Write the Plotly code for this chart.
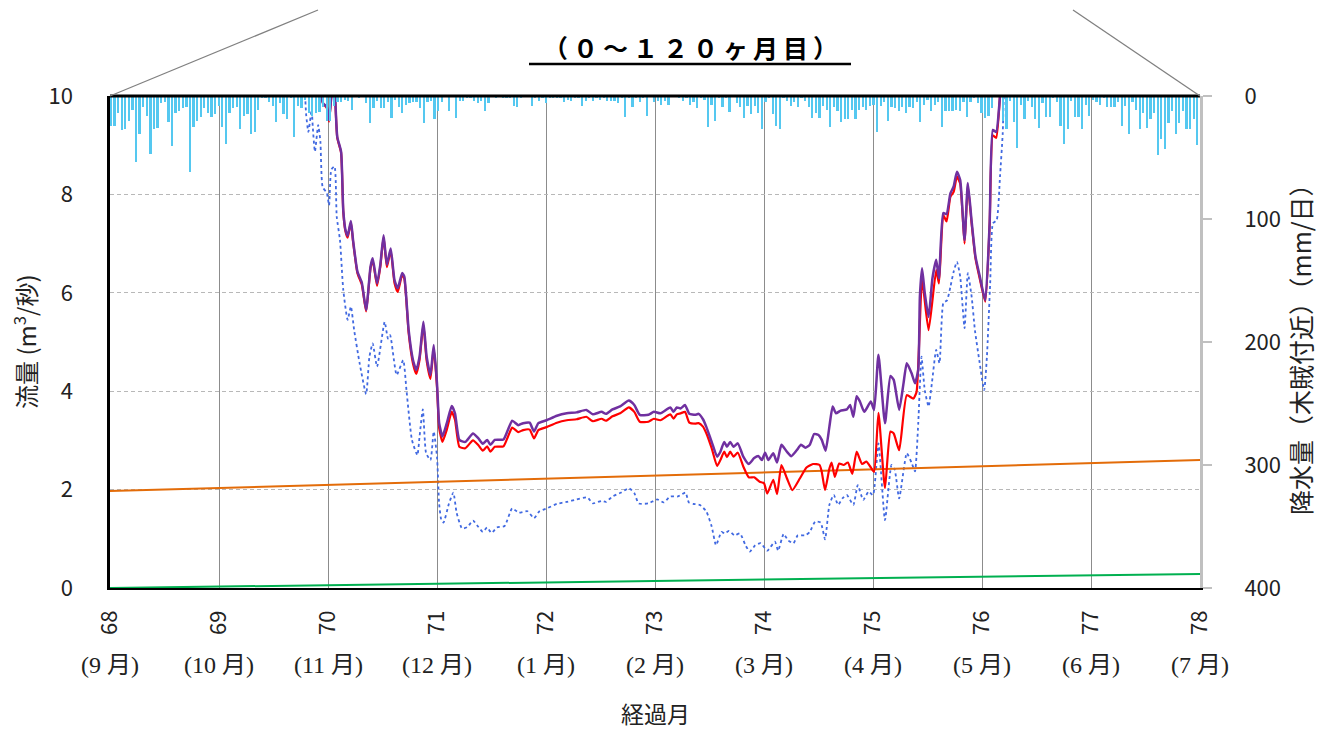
import plotly.graph_objects as go

# ---------------- data ----------------
month_ticks = [68, 69, 70, 71, 72, 73, 74, 75, 76, 77, 78]
month_names = ["(9 月)", "(10 月)", "(11 月)", "(12 月)", "(1 月)", "(2 月)",
               "(3 月)", "(4 月)", "(5 月)", "(6 月)", "(7 月)"]

# purple flow series
purple_x = [69.90, 69.94, 69.955, 69.99, 70.01, 70.03, 70.045, 70.065, 70.085, 70.12, 70.14, 70.16, 70.18,
            70.21, 70.23, 70.27, 70.31, 70.35, 70.39, 70.41, 70.45, 70.48, 70.51, 70.54, 70.575, 70.61,
            70.64, 70.68, 70.70, 70.74, 70.78, 70.81, 70.84, 70.875, 70.905, 70.94, 70.97, 71.0, 71.02,
            71.05, 71.09, 71.135, 71.165, 71.205, 71.26, 71.33, 71.38, 71.42, 71.46, 71.49, 71.53, 71.61,
            71.65, 71.69, 71.745, 71.79, 71.85, 71.89, 71.93, 72.005, 72.10, 72.19, 72.28, 72.37, 72.43,
            72.51, 72.55, 72.61, 72.68, 72.76, 72.81, 72.86, 72.94, 72.99, 73.05, 73.14, 73.17, 73.20,
            73.235, 73.275, 73.315, 73.37, 73.40, 73.44, 73.47, 73.52, 73.57, 73.60, 73.635, 73.66, 73.69,
            73.72, 73.76, 73.81, 73.86, 73.91, 73.95, 73.98, 74.01, 74.04, 74.085, 74.12, 74.16, 74.21,
            74.25, 74.30, 74.34, 74.38, 74.42, 74.46, 74.50, 74.53, 74.565, 74.60, 74.63, 74.66, 74.70,
            74.76, 74.79, 74.82, 74.85, 74.88, 74.92, 74.98, 75.01, 75.05, 75.11, 75.16, 75.19, 75.24,
            75.28, 75.31, 75.355, 75.385, 75.415, 75.43, 75.45, 75.475, 75.51, 75.545, 75.58, 75.605,
            75.645, 75.675, 75.71, 75.74, 75.77, 75.80, 75.84, 75.87, 75.905, 75.94, 75.98, 76.03, 76.07,
            76.10, 76.13, 76.165, 76.20]
purple_y = [11.0, 10.0, 9.85, 9.78, 9.51, 10.0, 10.6, 10.0, 9.17, 8.87, 7.68, 7.28, 7.16,
            7.46, 7.07, 6.43, 6.21, 5.65, 6.53, 6.70, 6.19, 6.57, 7.17, 6.57, 6.90, 6.26,
            6.09, 6.40, 6.33, 5.24, 4.63, 4.43, 4.70, 5.41, 4.70, 4.33, 4.94, 4.16, 3.35,
            3.08, 3.35, 3.70, 3.55, 3.01, 2.97, 3.14, 3.04, 2.93, 3.01, 2.91, 3.01, 3.02,
            3.21, 3.40, 3.31, 3.35, 3.36, 3.18, 3.35, 3.41, 3.50, 3.55, 3.57, 3.62, 3.53,
            3.58, 3.54, 3.63, 3.69, 3.81, 3.72, 3.52, 3.52, 3.58, 3.55, 3.67, 3.58, 3.67,
            3.65, 3.72, 3.54, 3.52, 3.54, 3.43, 3.28, 2.97, 2.67, 2.77, 2.97, 2.87, 2.97,
            2.87, 2.94, 2.67, 2.52, 2.64, 2.68, 2.60, 2.75, 2.60, 2.74, 2.55, 2.91, 2.77,
            2.68, 2.80, 2.91, 2.85, 2.91, 3.13, 3.11, 3.01, 2.79, 3.28, 3.69, 3.55, 3.60,
            3.63, 3.72, 3.48, 3.90, 3.79, 3.58, 3.79, 3.62, 4.74, 3.35, 4.31, 4.23, 3.62,
            4.16, 4.57, 4.36, 4.16, 4.43, 5.92, 6.50, 5.99, 5.51, 6.29, 6.67, 6.29,
            7.62, 7.60, 8.02, 8.16, 8.46, 8.29, 7.07, 8.23, 7.45, 6.74, 6.33, 5.85, 7.41,
            9.31, 9.27, 9.99, 10.8]

# red flow series
red_x = [69.90, 69.94, 69.955, 69.99, 70.01, 70.03, 70.045, 70.065, 70.085, 70.12, 70.14, 70.16, 70.18,
         70.21, 70.23, 70.27, 70.31, 70.35, 70.39, 70.41, 70.45, 70.48, 70.51, 70.54, 70.575, 70.61,
         70.64, 70.68, 70.70, 70.74, 70.78, 70.81, 70.84, 70.875, 70.905, 70.94, 70.97, 71.0, 71.02,
         71.05, 71.09, 71.135, 71.165, 71.205, 71.26, 71.33, 71.38, 71.42, 71.46, 71.49, 71.53, 71.61,
         71.65, 71.69, 71.745, 71.79, 71.85, 71.89, 71.93, 72.005, 72.10, 72.19, 72.28, 72.37, 72.43,
         72.51, 72.55, 72.61, 72.68, 72.76, 72.81, 72.86, 72.94, 72.99, 73.05, 73.14, 73.17, 73.20,
         73.235, 73.275, 73.315, 73.37, 73.40, 73.44, 73.47, 73.52, 73.57, 73.60, 73.635, 73.66, 73.69,
         73.72, 73.76, 73.81, 73.86, 73.91, 73.96, 74.00, 74.03, 74.085, 74.12, 74.16, 74.21, 74.26,
         74.33, 74.39, 74.45, 74.51, 74.53, 74.56, 74.60, 74.62, 74.65, 74.69, 74.73, 74.77, 74.81,
         74.85, 74.90, 74.94, 74.98, 75.01, 75.05, 75.11, 75.16, 75.19, 75.24, 75.31, 75.37, 75.40,
         75.45, 75.51, 75.58, 75.605, 75.645, 75.675, 75.71, 75.74, 75.77, 75.80, 75.84, 75.87, 75.905,
         75.94, 75.98, 76.03, 76.07, 76.10, 76.13, 76.165, 76.20]
red_y = [11.0, 10.0, 9.85, 9.75, 9.48, 10.0, 10.6, 10.0, 9.15, 8.85, 7.65, 7.25, 7.12,
         7.43, 7.04, 6.40, 6.17, 5.62, 6.50, 6.66, 6.14, 6.53, 7.13, 6.52, 6.86, 6.20,
         6.02, 6.36, 6.29, 5.18, 4.56, 4.35, 4.64, 5.35, 4.62, 4.25, 4.88, 4.08, 3.25,
         2.97, 3.22, 3.58, 3.42, 2.87, 2.84, 3.00, 2.90, 2.79, 2.88, 2.77, 2.87, 2.88,
         3.07, 3.26, 3.17, 3.21, 3.22, 3.04, 3.21, 3.27, 3.36, 3.41, 3.43, 3.48, 3.39,
         3.44, 3.40, 3.49, 3.55, 3.67, 3.58, 3.38, 3.38, 3.44, 3.41, 3.53, 3.44, 3.53,
         3.55, 3.58, 3.36, 3.34, 3.35, 3.28, 3.15, 2.84, 2.48, 2.60, 2.77, 2.66, 2.77,
         2.67, 2.75, 2.47, 2.25, 2.25, 2.16, 2.13, 1.92, 2.20, 1.91, 2.50, 2.23, 1.99,
         2.23, 2.45, 2.52, 2.50, 2.36, 1.99, 2.43, 2.55, 2.26, 2.53, 2.50, 2.55, 2.32,
         2.77, 2.52, 2.57, 2.45, 2.36, 3.56, 2.03, 3.18, 3.14, 2.80, 3.92, 3.85, 3.99,
         6.26, 5.24, 6.46, 6.19, 7.58, 7.45, 7.95, 8.05, 8.36, 8.22, 7.00, 8.18, 7.40,
         6.70, 6.28, 5.82, 7.38, 9.20, 9.15, 9.99, 10.8]

# blue dotted flow series
blue_x = [69.78, 69.80, 69.82, 69.85, 69.86, 69.88, 69.91, 69.93, 69.95, 69.99, 70.01, 70.03, 70.06,
          70.08, 70.11, 70.14, 70.18, 70.21, 70.24, 70.29, 70.35, 70.38, 70.41, 70.45, 70.52, 70.55,
          70.57, 70.63, 70.69, 70.72, 70.77, 70.82, 70.84, 70.87, 70.90, 70.94, 70.97, 71.0, 71.02,
          71.04, 71.06, 71.11, 71.15, 71.18, 71.23, 71.28, 71.33, 71.38, 71.42, 71.46, 71.50, 71.55,
          71.62, 71.69, 71.75, 71.83, 71.89, 71.94, 72.01, 72.10, 72.19, 72.28, 72.38, 72.43, 72.51,
          72.55, 72.61, 72.69, 72.76, 72.81, 72.85, 72.94, 73.02, 73.08, 73.14, 73.21, 73.28, 73.31,
          73.35, 73.41, 73.47, 73.52, 73.56, 73.61, 73.64, 73.68, 73.73, 73.78, 73.83, 73.87, 73.92,
          73.97, 74.03, 74.10, 74.13, 74.18, 74.22, 74.27, 74.31, 74.38, 74.42, 74.47, 74.52, 74.56,
          74.60, 74.64, 74.68, 74.72, 74.76, 74.82, 74.86, 74.91, 74.96, 75.00, 75.05, 75.11, 75.17,
          75.20, 75.24, 75.31, 75.355, 75.385, 75.415, 75.445, 75.475, 75.51, 75.54, 75.58, 75.61,
          75.645, 75.68, 75.71, 75.74, 75.77, 75.80, 75.84, 75.87, 75.905, 75.935, 75.975, 76.02,
          76.045, 76.075, 76.10, 76.135, 76.165, 76.19, 76.20, 76.22]
blue_y = [10.5, 9.61, 9.27, 9.72, 9.38, 8.87, 9.41, 9.08, 8.16, 8.02, 7.78, 8.50, 8.57,
          7.55, 7.07, 6.06, 5.45, 5.72, 5.24, 4.57, 3.94, 4.70, 4.97, 4.50, 5.41, 5.07,
          5.14, 4.33, 4.63, 4.02, 3.01, 2.70, 3.08, 3.63, 2.74, 2.60, 3.18, 2.67, 1.70,
          1.38, 1.33, 1.72, 1.94, 1.53, 1.21, 1.24, 1.37, 1.24, 1.14, 1.23, 1.12, 1.23,
          1.26, 1.62, 1.53, 1.56, 1.42, 1.56, 1.62, 1.71, 1.75, 1.80, 1.84, 1.72, 1.77,
          1.75, 1.86, 1.94, 2.03, 1.93, 1.72, 1.72, 1.80, 1.74, 1.86, 1.86, 1.94, 1.74,
          1.71, 1.69, 1.56, 1.25, 0.87, 1.14, 1.11, 1.16, 1.07, 1.11, 0.87, 0.74, 0.87,
          0.91, 0.76, 0.94, 0.76, 1.10, 0.97, 0.91, 1.07, 1.07, 1.14, 1.35, 1.33, 0.99,
          1.69, 1.89, 1.69, 1.82, 1.89, 1.69, 2.09, 1.79, 1.96, 1.89, 2.94, 1.38, 2.50,
          2.40, 1.82, 2.74, 2.54, 2.37, 3.35, 4.70, 4.02, 3.69, 4.16, 4.84, 4.57,
          5.79, 5.85, 6.12, 6.43, 6.63, 6.33, 5.28, 6.40, 5.92, 5.24, 4.63, 4.02,
          4.70, 6.19, 7.41, 7.48, 8.36, 9.24, 10.0, 10.8]

# straight reference lines
orange_x = [68, 78]
orange_y = [1.97, 2.60]
green_x = [68, 78]
green_y = [0.0, 0.285]

# daily precipitation (mm/day), one value per day from month 68 to 78
rain = [
    24, 24, 14, 28, 27, 20, 11, 54, 31, 9, 16, 47, 27, 26, 6, 5, 21, 41, 14, 12, 10, 9, 62, 25, 20, 17, 10, 14, 17, 15, 8,
    25, 39, 14, 10, 9, 27, 16, 15, 31, 29, 11, 2, 1, 5, 8, 21, 6, 15, 19, 2, 33, 8, 10, 3, 14, 16, 14, 13, 9, 20,
    20, 8, 5, 5, 3, 4, 11, 0, 2, 0, 6, 22, 10, 4, 10, 10, 5, 18, 3, 9, 14, 7, 6, 5, 5, 10, 22, 5, 4, 19,
    12, 5, 0, 12, 0, 18, 4, 4, 2, 2, 4, 6, 4, 12, 6, 0, 1, 0, 1, 2, 2, 8, 9, 2, 0, 0, 8, 2, 4, 2,
    6, 2, 2, 1, 2, 5, 3, 4, 1, 2, 8, 4, 2, 4, 1, 3, 2, 4, 4, 4, 6, 2, 17, 2, 9, 2, 5, 2, 16, 0,
    5, 4, 7, 4, 7, 0, 0, 2, 4, 2, 7, 5, 10, 2, 3, 25, 7, 20, 2, 9, 2, 13, 0, 6, 9, 18, 8, 15, 8, 14,
    27, 5, 2, 15, 24, 27, 1, 4, 8, 5, 9, 2, 4, 9, 18, 14, 18, 8, 11, 25, 9, 12, 21, 19, 19, 11, 19, 11, 9, 11, 8,
    7, 29, 8, 5, 20, 9, 10, 12, 9, 14, 9, 10, 5, 21, 7, 3, 12, 7, 5, 25, 12, 12, 12, 11, 12, 5, 17, 5, 2, 6,
    14, 18, 16, 10, 0, 0, 20, 27, 4, 21, 42, 7, 19, 4, 9, 19, 26, 6, 17, 17, 2, 5, 24, 39, 27, 4, 17, 17, 27, 7, 16,
    3, 5, 7, 2, 9, 9, 9, 5, 24, 8, 31, 5, 11, 27, 14, 26, 19, 14, 48, 35, 43, 22, 12, 31, 22, 12, 27, 27, 19, 40,
]
rain_x = [68 + (i + 0.3) * 10.0 / len(rain) for i in range(len(rain))]

# ---------------- figure ----------------
# page has an 8px body margin, so the figure is drawn 8px right/down of the page origin
OFF = 8
PLOT_L, PLOT_R, PLOT_T, PLOT_B = 110, 1200, 96, 588   # plot area in page pixels
W, H = 1326 - OFF, 729 - OFF
L = PLOT_L - OFF
T = PLOT_T - OFF
R = W - (PLOT_R - OFF)
B = H - (PLOT_B - OFF)

def px(xp):
    return (xp - PLOT_L) / (PLOT_R - PLOT_L)

def py(yp):
    return (PLOT_B - yp) / (PLOT_B - PLOT_T)

sans = "Noto Sans CJK JP, Noto Sans, sans-serif"
serif = "Liberation Serif, Noto Sans CJK JP, serif"

fig = go.Figure()

fig.add_trace(go.Bar(x=rain_x, y=rain, yaxis="y2", width=0.016,
                     marker=dict(color="#55C8F0", line=dict(width=0)), name="降水量"))

fig.add_trace(go.Scatter(x=blue_x, y=blue_y, mode="lines", name="blue",
                         line=dict(color="#4169E1", width=1.8, dash="dot", shape="spline", smoothing=0.5)))
fig.add_trace(go.Scatter(x=orange_x, y=orange_y, mode="lines", name="orange",
                         line=dict(color="#E36C09", width=2)))
fig.add_trace(go.Scatter(x=green_x, y=green_y, mode="lines", name="green",
                         line=dict(color="#00B050", width=2)))
fig.add_trace(go.Scatter(x=red_x, y=red_y, mode="lines", name="red",
                         line=dict(color="#FF0000", width=2.2, shape="spline", smoothing=0.5)))
fig.add_trace(go.Scatter(x=purple_x, y=purple_y, mode="lines", name="purple",
                         line=dict(color="#7030A0", width=2.5, shape="spline", smoothing=0.5)))

fig.update_layout(
    width=W, height=H,
    margin=dict(l=L, r=R, t=T, b=B),
    plot_bgcolor="white", paper_bgcolor="white",
    showlegend=False,
    bargap=0,
    font=dict(family=sans, size=22, color="#222222"),
    xaxis=dict(range=[68, 78], tickmode="array", tickvals=month_ticks,
               ticktext=[str(v) for v in month_ticks], tickangle=-90,
               showgrid=True, gridcolor="#8C8C8C", gridwidth=1.2,
               showline=True, linecolor="black", linewidth=1.5,
               ticks="", ticklabelstandoff=12, zeroline=False,
               tickfont=dict(family=sans, size=22, color="#222222")),
    yaxis=dict(range=[0, 10], tickvals=[0, 2, 4, 6, 8, 10],
               showgrid=True, gridcolor="#B8B8B8", gridwidth=1, griddash="4px,3px",
               showline=True, linecolor="black", linewidth=2.5,
               ticks="", ticklabelstandoff=30, zeroline=False,
               tickfont=dict(family=sans, size=22, color="#222222")),
    yaxis2=dict(range=[400, 0], tickvals=[0, 100, 200, 300, 400],
                overlaying="y", side="right", showgrid=False, zeroline=False,
                showline=True, linecolor="#C0C0C0", linewidth=3,
                ticks="outside", ticklen=9, tickcolor="#C0C0C0", tickwidth=1.5,
                ticklabelstandoff=28,
                tickfont=dict(family=sans, size=22, color="#222222")),
)

shapes = [
    dict(type="line", xref="paper", yref="paper", x0=0, x1=1, y0=1, y1=1,
         line=dict(color="black", width=3)),
    dict(type="line", xref="paper", yref="paper", x0=0, y0=1, x1=px(318), y1=py(10),
         line=dict(color="#808080", width=1.3)),
    dict(type="line", xref="paper", yref="paper", x0=1, y0=1, x1=px(1073), y1=py(10),
         line=dict(color="#808080", width=1.3)),
    dict(type="line", xref="paper", yref="paper", x0=px(529), x1=px(851), y0=py(64), y1=py(64),
         line=dict(color="black", width=2.5)),
]
fig.update_layout(shapes=shapes)

title_text = "\u2009".join("（０～１２０ヶ月目）")
annotations = [
    dict(text="<b>" + title_text + "</b>", xref="paper", yref="paper", x=px(690), y=py(47),
         showarrow=False, font=dict(family=sans, size=25, color="black"), xanchor="center", yanchor="middle"),
    dict(text="流量 (m<sup>3</sup>/秒)", xref="paper", yref="paper", x=px(25), y=py(342),
         showarrow=False, textangle=-90, font=dict(family=sans, size=24, color="#222222"),
         xanchor="center", yanchor="middle"),
    dict(text="降水量（木賊付近）（mm/日）", xref="paper", yref="paper", x=px(1300), y=py(343),
         showarrow=False, textangle=-90, font=dict(family=sans, size=25, color="#222222"),
         xanchor="center", yanchor="middle"),
    dict(text="経過月", xref="paper", yref="paper", x=px(655), y=py(713),
         showarrow=False, font=dict(family=sans, size=23, color="#222222"),
         xanchor="center", yanchor="middle"),
]
for m, name in zip(month_ticks, month_names):
    annotations.append(dict(text=name, xref="x", yref="paper", x=m, y=py(665), showarrow=False,
                            font=dict(family=serif, size=24, color="#222222"),
                            xanchor="center", yanchor="middle"))
fig.update_layout(annotations=annotations)

fig.write_html("out.html")
